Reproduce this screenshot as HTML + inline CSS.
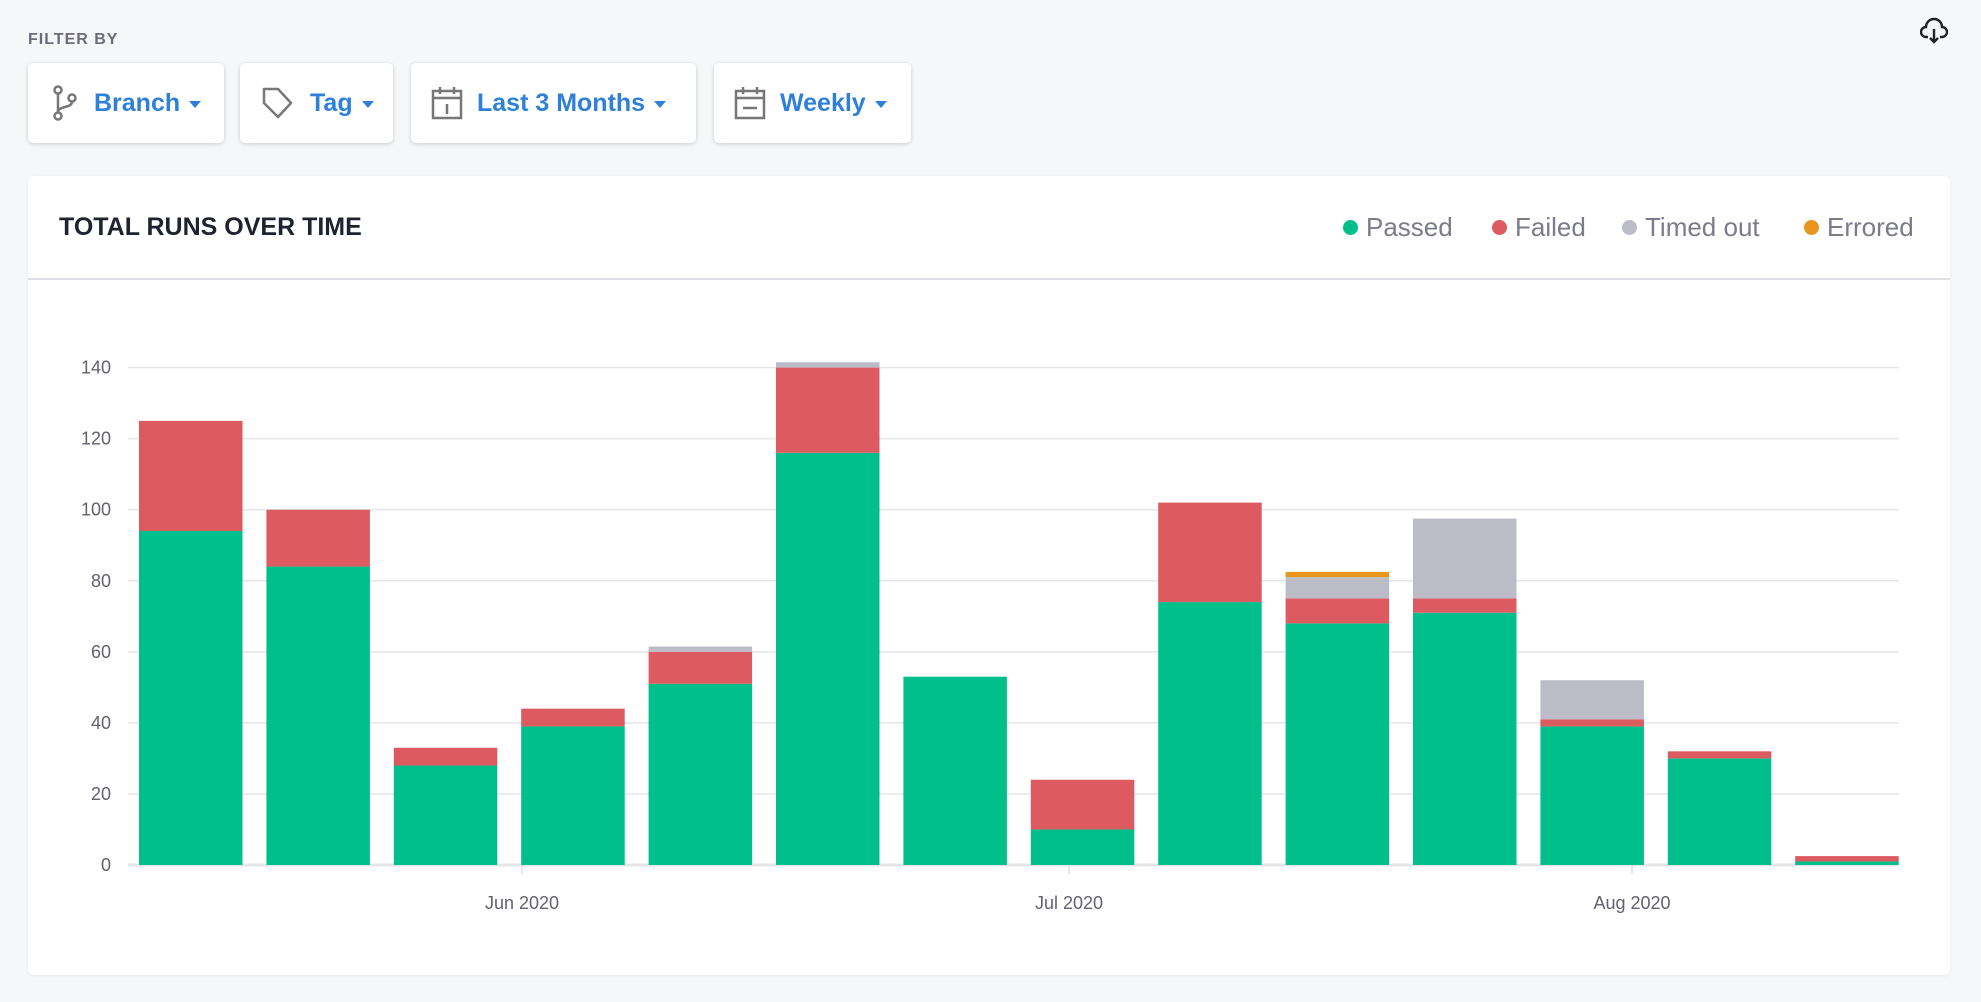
<!DOCTYPE html>
<html><head><meta charset="utf-8"><style>
html,body{margin:0;padding:0;width:1981px;height:1002px;background:#f6f7f9;font-family:"Liberation Sans",sans-serif;overflow:hidden;position:relative}
.fb{position:absolute;left:28px;top:31px;font-size:16px;font-weight:bold;color:#6b6c7a;letter-spacing:1px}
.btn{position:absolute;top:63px;height:80px;background:#fff;border-radius:5px;box-shadow:0 1px 4px rgba(0,0,0,.18);display:flex;align-items:center;color:#2e80d8;font-weight:bold;font-size:25px}
.btn svg{margin-right:14px}
.car{display:inline-block;width:0;height:0;border-left:6px solid transparent;border-right:6px solid transparent;border-top:7px solid #2e80d8;margin-left:9px;margin-top:3px}
.card{position:absolute;left:28px;top:176px;width:1922px;height:799px;background:#fff;border-radius:6px;box-shadow:0 1px 3px rgba(0,0,0,.06)}
.hdr{position:absolute;left:0;top:0;width:100%;height:102px;border-bottom:2px solid #dedfe4}
.title{position:absolute;left:31px;top:37px;font-size:25px;font-weight:bold;color:#1f2330}
.lg{position:absolute;top:36px;font-size:26px;color:#7b7b8a;display:flex;align-items:center}
.dot{width:15px;height:15px;border-radius:50%;margin-right:8px}
</style></head><body>
<div class="fb">FILTER BY</div>
<div class="btn" style="left:28px;width:196px"><svg width="30" height="38" viewBox="0 0 30 38" style="margin-left:22px"><g fill="none" stroke="#777" stroke-width="2.5"><circle cx="8" cy="6" r="3.5"/><circle cx="8" cy="32" r="3.5"/><circle cx="22" cy="14" r="3.5"/><path d="M8 10v18M22 18c0 6-14 4-14 10"/></g></svg>Branch<span class="car"></span></div>
<div class="btn" style="left:240px;width:153px"><svg width="36" height="36" viewBox="0 0 36 36" style="margin-left:20px"><path d="M4 4h14l13 14-13 14L4 18z" fill="none" stroke="#777" stroke-width="2.5" stroke-linejoin="round"/></svg>Tag<span class="car"></span></div>
<div class="btn" style="left:411px;width:285px"><svg width="32" height="34" viewBox="0 0 32 34" style="margin-left:20px"><g fill="none" stroke="#777" stroke-width="2.5"><rect x="2" y="5" width="28" height="27"/><path d="M2 12h28M9 1v7M23 1v7M16 18v10"/></g></svg>Last 3 Months<span class="car"></span></div>
<div class="btn" style="left:714px;width:197px"><svg width="32" height="34" viewBox="0 0 32 34" style="margin-left:20px"><g fill="none" stroke="#777" stroke-width="2.5"><rect x="2" y="5" width="28" height="27"/><path d="M2 12h28M9 1v7M23 1v7M9 22h14"/></g></svg>Weekly<span class="car"></span></div>
<svg style="position:absolute;left:1920px;top:17px" width="28" height="28" viewBox="0 0 28 28"><path d="M8 20H6a5 5 0 0 1 0-10 8 8 0 0 1 16 0 5 5 0 0 1 0 10h-2M14 12v13M10 21l4 4 4-4" fill="none" stroke="#222" stroke-width="2.4"/></svg>
<div class="card">
<div class="hdr"></div>
<div class="title">TOTAL RUNS OVER TIME</div>
<div class="lg" style="left:1315px"><span class="dot" style="background:#00bf8a"></span>Passed</div>
<div class="lg" style="left:1464px"><span class="dot" style="background:#dd5a60"></span>Failed</div>
<div class="lg" style="left:1594px"><span class="dot" style="background:#bcbcc6"></span>Timed out</div>
<div class="lg" style="left:1776px"><span class="dot" style="background:#e8961e"></span>Errored</div>
</div>
<svg id="ch" style="position:absolute;left:0;top:0" width="1981" height="1002"></svg>
<script>
var s='',y0=865,k=3.553,x0=139,p=127.4,w=103.5;
for(var v=0;v<=140;v+=20){var y=y0-v*k;s+='<line x1="128" x2="1899" y1="'+y+'" y2="'+y+'" stroke="#e6e6e9" stroke-width="'+(v?1.5:3)+'"/>';s+='<text x="111" y="'+(y+6)+'" text-anchor="end" font-size="18" fill="#62626f" font-family="Liberation Sans">'+v+'</text>';}
var d=[[94,31,0,0],[84,16,0,0],[28,5,0,0],[39,5,0,0],[51,9,1.5,0],[116,24,1.5,0],[53,0,0,0],[10,14,0,0],[74,28,0,0],[68,7,6,1.5],[71,4,22.5,0],[39,2,11,0],[30,2,0,0],[1,1.5,0,0]];
var c=['#00bf8a','#dd5a60','#bcbcc6','#e8961e'];
d.forEach(function(r,i){var b=0,x=x0+i*p;r.forEach(function(v,j){if(!v)return;var t=y0-(b+v)*k,h=v*k;s+='<rect x="'+x+'" y="'+t+'" width="'+w+'" height="'+h+'" fill="'+c[j]+'"/>';b+=v;});});
[[522,'Jun 2020'],[1069,'Jul 2020'],[1632,'Aug 2020']].forEach(function(a){s+='<line x1="'+a[0]+'" x2="'+a[0]+'" y1="866" y2="874" stroke="#ddd" stroke-width="1.5"/><text x="'+a[0]+'" y="909" text-anchor="middle" font-size="18" fill="#62626f" font-family="Liberation Sans">'+a[1]+'</text>';});
document.getElementById('ch').innerHTML=s;
</script>
</body></html>
